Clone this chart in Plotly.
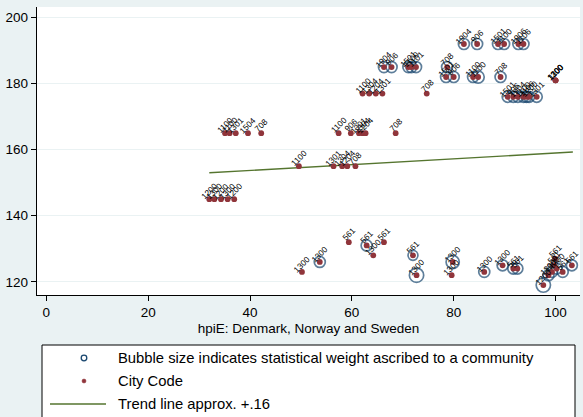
import plotly.graph_objects as go

# hpiE index (x) for each community
hpi = [
    82.0, 84.6, 88.7, 89.9, 92.7, 93.7,
    66.3, 67.8, 71.1, 71.7, 72.6, 78.7,
    78.5, 80.0, 83.8, 84.8, 89.2,
    100.0, 100.0, 100.0,
    90.6, 91.7, 92.6, 93.7, 94.3, 94.8, 96.3,
    62.1, 63.4, 64.7, 66.0, 74.7,
    35.1, 36.0, 37.2, 39.6, 42.2, 57.4, 59.8, 61.4, 62.1, 62.7, 68.6,
    49.6, 56.4, 58.1, 59.1, 60.7,
    32.0, 33.0, 34.3, 35.6, 36.9,
    50.2, 53.7, 59.4, 62.9, 64.2, 66.3, 72.0, 72.7, 79.6, 79.8, 86.0,
    89.6, 91.7, 92.5, 97.6, 98.6, 99.3, 99.7, 99.9, 100.2, 101.4, 103.2,
]

# outcome value (y) for each community
score = [
    192, 192, 192, 192, 192, 192,
    185, 185, 185, 185, 185, 185,
    182, 182, 182, 182, 182,
    181, 181, 181,
    176, 176, 176, 176, 176, 176, 176,
    177, 177, 177, 177, 177,
    165, 165, 165, 165, 165, 165, 165, 165, 165, 165, 165,
    155, 155, 155, 155, 155,
    145, 145, 145, 145, 145,
    123, 126, 132, 131, 128, 132, 128, 122, 122, 126, 123,
    125, 124, 124, 119, 122, 123, 125, 127, 124, 123, 125,
]

# statistical weight of each community (bubble size)
weight = [
    1.0, 1.0, 1.0, 1.0, 1.0, 1.0,
    1.0, 1.0, 1.0, 1.0, 1.0, 1.0,
    1.0, 1.0, 1.0, 1.1, 1.0,
    0, 0, 0,
    1.0, 1.0, 1.0, 1.0, 1.0, 1.0, 1.0,
    0, 0, 0, 0, 0,
    0, 0, 0, 0, 0, 0, 0, 0, 0, 0, 0,
    0, 0, 0, 0, 0,
    0, 0, 0, 0, 0,
    0, 1.0, 0, 1.0, 0, 0, 0.9, 1.3, 0, 1.2, 1.0,
    1.0, 1.0, 1.0, 1.3, 1.0, 1.0, 0, 0, 1.0, 1.0, 1.0,
]

# city code shown next to each point
city_code = [
    "1904", "906", "1501", "1100", "1906", "1106",
    "1904", "906", "1501", "1100", "1101", "708",
    "1501", "906", "1100", "1100", "708",
    "1100", "1300", "1200",
    "1501", "906", "1904", "1100", "1106", "1200", "1301",
    "1100", "1304", "1204", "1301", "708",
    "1100", "1100", "1301", "1504", "708", "1100", "906", "1301", "1304", "1204", "708",
    "1100", "1301", "1304", "1204", "708",
    "1200", "1300", "1200", "1300", "1200",
    "1300", "1300", "561", "561", "1300", "561", "561", "1300", "1300", "1300", "1300",
    "1300", "561", "561", "1200", "1300", "1300", "561", "561", "1300", "561", "561",
]

# fitted trend line end points
trend_x = [32.0, 103.4]
trend_y = [153.0, 159.3]

NAVY = "#1A476F"
MAROON = "#90353B"
GREEN = "#55752F"
BG = "#EAF2F3"
FONT = "Liberation Sans, Arial, sans-serif"

fig = go.Figure()

fig.add_trace(go.Scatter(
    x=hpi, y=score, mode="markers", hoverinfo="skip",
    marker=dict(symbol="circle-open", size=[11 * w for w in weight],
                color=NAVY, line=dict(width=1.7, color=NAVY)),
    showlegend=False,
))
fig.add_trace(go.Scatter(
    x=trend_x, y=trend_y, mode="lines",
    line=dict(color=GREEN, width=1.4), showlegend=False,
))
fig.add_trace(go.Scatter(
    x=hpi, y=score, mode="markers",
    marker=dict(symbol="circle", size=5.8, color=MAROON),
    showlegend=False,
))

# rotated city-code labels above each marker
for xv, yv, code in zip(hpi, score, city_code):
    fig.add_annotation(
        x=xv, y=yv, text=code, showarrow=False, textangle=-45,
        yshift=8, xshift=0,
        font=dict(family=FONT, size=8.3, color="black"),
    )

# plot-area geometry in pixels, used for the hand-drawn key
W, H = 583, 417
L, R, T, B = 37, 580, 7, 295


def px_x(p):
    return (p - L) / (R - L)


def px_y(p):
    return (B - p) / (B - T)


fig.add_shape(type="rect", xref="paper", yref="paper",
              x0=px_x(42), x1=px_x(575), y0=px_y(345), y1=px_y(440),
              line=dict(color="black", width=1), fillcolor="white", layer="above")

fig.add_shape(type="circle", xref="paper", yref="paper",
              xsizemode="pixel", ysizemode="pixel",
              xanchor=px_x(84), yanchor=px_y(358),
              x0=-2.8, x1=2.8, y0=-2.8, y1=2.8,
              line=dict(color=NAVY, width=1.3))
fig.add_shape(type="circle", xref="paper", yref="paper",
              xsizemode="pixel", ysizemode="pixel",
              xanchor=px_x(84), yanchor=px_y(381),
              x0=-2, x1=2, y0=-2, y1=2,
              line=dict(color=MAROON, width=0.5), fillcolor=MAROON)
fig.add_shape(type="line", xref="paper", yref="paper",
              x0=px_x(50), x1=px_x(106), y0=px_y(404), y1=px_y(404),
              line=dict(color=GREEN, width=1.4))

key_text = [
    "Bubble size indicates statistical weight ascribed to a community",
    "City Code",
    "Trend line approx. +.16",
]
for txt, py in zip(key_text, [358, 381, 404]):
    fig.add_annotation(xref="paper", yref="paper", x=px_x(116), y=px_y(py),
                       text=txt, showarrow=False, xanchor="left", yanchor="middle",
                       font=dict(family=FONT, size=14.8, color="black"))

fig.update_layout(
    width=W, height=H,
    margin=dict(l=L, r=W - R, t=T, b=H - B),
    paper_bgcolor=BG, plot_bgcolor="white",
    font=dict(family=FONT, size=13.5, color="black"),
    xaxis=dict(
        range=[-1.83, 104.8], tickvals=[0, 20, 40, 60, 80, 100],
        ticks="outside", ticklen=5, tickwidth=1.2, tickcolor="black",
        showline=True, linecolor="black", linewidth=1.4,
        showgrid=False, zeroline=False,
        title=dict(text="hpiE: Denmark, Norway and Sweden", standoff=4,
                   font=dict(size=13.5)),
        tickfont=dict(size=13.5),
    ),
    yaxis=dict(
        range=[116.0, 203.2], tickvals=[120, 140, 160, 180, 200],
        ticks="outside", ticklen=5, tickwidth=1.2, tickcolor="black",
        showline=True, linecolor="black", linewidth=1.4,
        showgrid=True, gridcolor=BG, gridwidth=1, zeroline=False,
        tickfont=dict(size=13.5),
    ),
)

fig.write_html("out.html")
